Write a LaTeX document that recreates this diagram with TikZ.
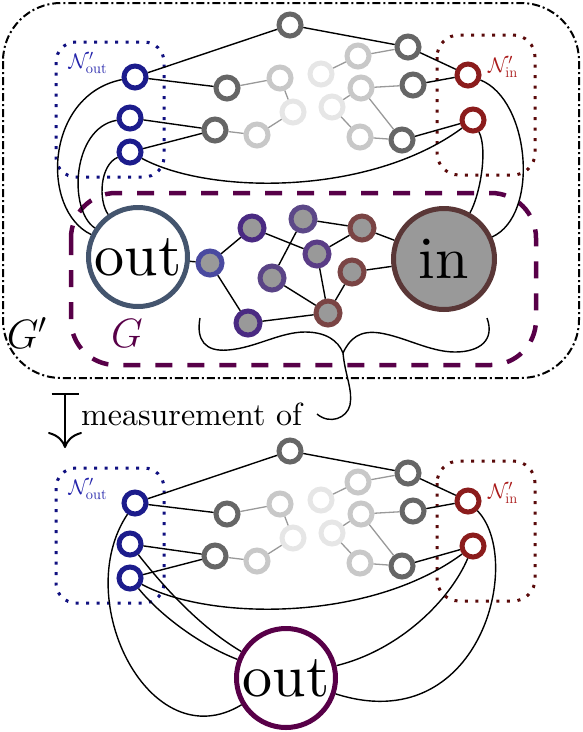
\RequirePackage{fix-cm}
\documentclass[tikz,border=0pt]{standalone}
\usetikzlibrary{arrows.meta}
\font\bigfont="[lmroman10-regular]:+tlig" at 60pt
\font\measfont="[lmroman10-regular]:+tlig" at 32pt
\definecolor{cblue}{RGB}{28,28,140}
\definecolor{cbluetext}{RGB}{34,34,170}
\definecolor{cbluebox}{RGB}{16,16,128}
\definecolor{cred}{RGB}{139,28,28}
\definecolor{credtext}{RGB}{170,26,26}
\definecolor{credbox}{RGB}{90,10,10}
\definecolor{cdark}{RGB}{102,102,102}
\definecolor{clight}{RGB}{200,200,200}
\definecolor{cvlight}{RGB}{230,230,230}
\definecolor{cledge}{RGB}{153,153,153}
\definecolor{cfill}{RGB}{153,153,153}
\definecolor{cout}{RGB}{68,85,110}
\definecolor{cin}{RGB}{90,55,55}
\definecolor{cG}{RGB}{88,0,72}
\definecolor{ga}{RGB}{74,74,160}
\definecolor{gb}{RGB}{74,42,130}
\definecolor{gc}{RGB}{92,72,136}
\definecolor{gd}{RGB}{90,60,134}
\definecolor{ge}{RGB}{90,68,134}
\definecolor{gf}{RGB}{122,68,68}
\newcommand{\netgraph}[1]{%
\draw[dotbox,draw=cbluebox] (56,42) rectangle (164,177);
\draw[dotbox,draw=credbox,rounded corners=22pt] (437,35) rectangle (535,175);
\node[nlabel,text=cbluetext] (lo#1) at (88,63) {$\mathcal{N}'_{\mathrm{out}}$};
\node[nlabel,text=credtext] (li#1) at (503,67) {$\mathcal{N}'_{\mathrm{in}}$};
\node[bnode] (o1#1) at (135,77) {};
\node[bnode] (o2#1) at (130,118) {};
\node[bnode] (o3#1) at (130,152) {};
\node[rnode] (i1#1) at (468,75) {};
\node[rnode] (i2#1) at (473,120) {};
\node[dnode] (t#1) at (290,25) {};
\node[dnode] (g1#1) at (227,88) {};
\node[dnode] (g2#1) at (215,130) {};
\node[lnode] (l1#1) at (280,78) {};
\node[lnode] (l2#1) at (257,135) {};
\node[vnode] (l3#1) at (293,112) {};
\node[vnode] (m0#1) at (321,74) {};
\node[lnode] (m1#1) at (358,56) {};
\node[lnode] (m2#1) at (361,88) {};
\node[vnode] (m3#1) at (332,107) {};
\node[lnode] (m4#1) at (360,137) {};
\node[dnode] (r1#1) at (408,47) {};
\node[dnode] (r2#1) at (413,85) {};
\node[dnode] (r3#1) at (402,140) {};
\draw[ledge] (g1#1) -- (l1#1);
\draw[ledge] (l1#1) -- (l3#1);
\draw[ledge] (l3#1) -- (l2#1);
\draw[ledge] (l2#1) -- (g2#1);
\draw[ledge] (m0#1) -- (m1#1);
\draw[ledge] (m1#1) -- (r1#1);
\draw[ledge] (m3#1) -- (m2#1);
\draw[ledge] (m2#1) -- (r2#1);
\draw[ledge] (m2#1) -- (r3#1);
\draw[ledge] (m3#1) -- (m4#1);
\draw[ledge] (m4#1) -- (r3#1);
\draw[edge] (o1#1) -- (t#1);
\draw[edge] (o1#1) -- (g1#1);
\draw[edge] (o2#1) -- (g2#1);
\draw[edge] (o3#1) -- (g2#1);
\draw[edge] (t#1) -- (r1#1);
\draw[edge] (r1#1) -- (i1#1);
\draw[edge] (r2#1) -- (i1#1);
\draw[edge] (r3#1) -- (i2#1);
\draw[edge] (o3#1) .. controls (210,195) and (370,196) .. (i2#1);
}
\begin{document}
\begin{tikzpicture}[x=1pt,y=-1pt,
  ring/.style={circle,draw,line width=5pt,minimum size=22pt,inner sep=0pt},
  bnode/.style={ring,draw=cblue},
  rnode/.style={ring,draw=cred},
  dnode/.style={ring,draw=cdark},
  lnode/.style={ring,draw=clight},
  vnode/.style={ring,draw=cvlight},
  gnode/.style={circle,line width=5pt,minimum size=24pt,inner sep=0pt,fill=cfill,draw=#1},
  edge/.style={line width=1.4pt,draw=black},
  ledge/.style={line width=1.3pt,draw=cledge},
  nlabel/.style={inner sep=1pt,font=\fontsize{21}{22}\selectfont},
  bigc/.style={circle,line width=5pt,minimum size=99pt,inner sep=0pt,font=\bigfont},
  dotbox/.style={line width=3pt,dash pattern=on 3pt off 7.5pt,rounded corners=20pt},
]
\useasboundingbox (0,0) rectangle (582,732);
% outer frame G'
\draw[line width=2pt,dash pattern=on 8pt off 3pt on 2pt off 3pt,rounded corners=58pt] (3,3) rectangle (579,378);
% G box
\draw[line width=4.5pt,draw=cG,dash pattern=on 17pt off 15pt,rounded corners=45pt] (71,193) rectangle (536,365);
\node[font=\fontsize{41}{44}\selectfont,inner sep=1pt] (gprime) at (27,333) {$G'$};
\node[font=\fontsize{41}{44}\selectfont,text=cG,inner sep=1pt] (glabel) at (127,333) {$G$};
% upper graph
\netgraph{a}
\node[bigc,draw=cout] (out) at (138,257) {out};
\node[bigc,draw=cin,fill=cfill,minimum size=101pt] (in) at (444,259) {in};
\node[gnode=ga] (ga) at (210,263) {};
\node[gnode=gb] (gb) at (252,228) {};
\node[gnode=gc] (gc) at (303,219) {};
\node[gnode=gd] (gd) at (317,254) {};
\node[gnode=ge] (ge) at (272,278) {};
\node[gnode=gf] (gf) at (362,228) {};
\node[gnode=gf] (gg) at (352,272) {};
\node[gnode=gf] (gh) at (328,313) {};
\node[gnode=gb] (gk) at (248,323) {};
\draw[edge] (out) -- (ga);
\draw[edge] (ga) -- (gb);
\draw[edge] (ga) -- (gk);
\draw[edge] (gb) -- (gd);
\draw[edge] (gc) -- (ge);
\draw[edge] (gc) -- (gf);
\draw[edge] (gd) -- (gf);
\draw[edge] (gd) -- (gh);
\draw[edge] (ge) -- (gh);
\draw[edge] (gg) -- (gh);
\draw[edge] (gk) -- (gh);
\draw[edge] (gf) -- (in);
\draw[edge] (gg) -- (in);
\draw[edge] (o1a) .. controls (45,95) and (40,210) .. (out);
\draw[edge] (o2a) .. controls (72,128) and (68,210) .. (out);
\draw[edge] (o3a) .. controls (100,165) and (98,200) .. (out);
\draw[edge] (i2a) .. controls (488,150) and (480,195) .. (in);
\draw[edge] (i1a) .. controls (530,100) and (540,215) .. (in);
% brace
\draw[line width=1.4pt] (200,318) .. controls (196,340) and (205,352) .. (228,350)
  .. controls (255,348) and (280,332) .. (305,332)
  .. controls (325,332) and (338,340) .. (343,353);
\draw[line width=1.4pt] (343,353) .. controls (350,338) and (360,330) .. (380,333)
  .. controls (405,337) and (430,352) .. (455,352)
  .. controls (480,352) and (495,340) .. (487,318);
\draw[line width=1.4pt] (343,353) .. controls (345,375) and (353,390) .. (350,405)
  .. controls (347,418) and (330,425) .. (317,414);
% mapsto arrow and text
\coordinate (atop) at (65,393);
\coordinate (abot) at (65,448);
\draw[line width=2pt,{Bar[width=27pt]}-{Computer Modern Rightarrow[width=34pt,length=16pt]}] (atop) -- (abot);
\node[anchor=base west,font=\measfont,inner sep=0pt] (meas) at (81,425) {measurement of};
% lower graph
\begin{scope}[yshift=-426pt]
\netgraph{b}
\end{scope}
\node[bigc,draw=cG] (outb) at (286,678) {out};
\draw[edge] (o1b) .. controls (70,600) and (150,760) .. (outb);
\draw[edge] (o2b) .. controls (170,595) and (205,630) .. (outb);
\draw[edge] (o3b) .. controls (160,615) and (200,645) .. (outb);
\draw[edge] (i2b) .. controls (450,600) and (400,650) .. (outb);
\draw[edge] (i1b) .. controls (525,560) and (480,740) .. (outb);
\end{tikzpicture}
\end{document}
